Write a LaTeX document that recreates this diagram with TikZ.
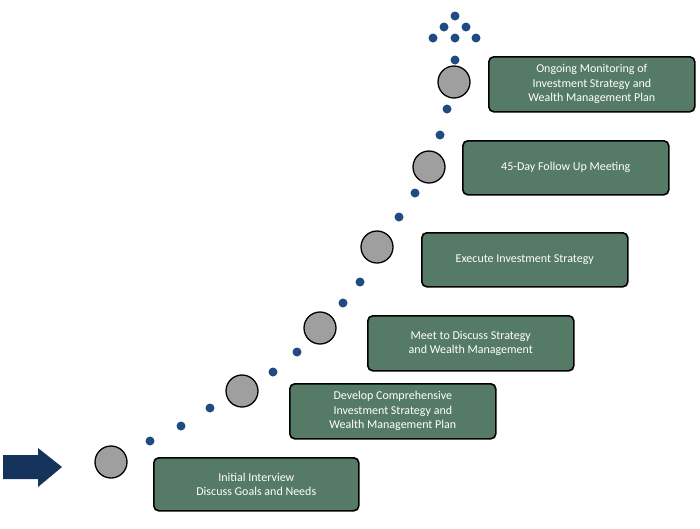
\documentclass[tikz,border=0pt]{standalone}
\usepackage{fontspec}
\setmainfont{Carlito}
\begin{document}
\begin{tikzpicture}[x=1pt,y=-1pt,
 box/.style={draw=black,line width=1.6pt,rounded corners=5pt,fill=boxg,text=white,align=center,font=\fontsize{12}{14.5}\selectfont,anchor=north west},
 circ/.style={circle,draw=black,line width=1.3pt,fill=gray!75,minimum size=32pt,inner sep=0pt},
 dot/.style={circle,fill=navy,minimum size=9pt,inner sep=0pt}]
\definecolor{boxg}{HTML}{557A66}
\definecolor{navy}{HTML}{1F4A82}
\useasboundingbox (0,0) rectangle (700,528);
\fill[navy!70!black] (3,455) -- (38,455) -- (38,448) -- (62,467) -- (38,487) -- (38,479) -- (3,479) -- cycle;
\foreach \n/\x/\y in {c1/111/462,c2/242/391,c3/320/328,c4/377/247,c5/429/167,c6/454/82}
 \node[circ] (\n) at (\x,\y) {};
\foreach \x/\y [count=\i] in {150/441,181/426,210/408,273/372,297/352,343/303,360/282,399/217,415/193,440/135,447/109,455/60,455/16,444/27,466/27,433/38,455/38,476/38}
 \node[dot] (d\i) at (\x,\y) {};
\node[box,minimum width=205pt,minimum height=53pt] (b1) at (153,457) {Initial Interview\\Discuss Goals and Needs};
\node[box,minimum width=206pt,minimum height=55pt] (b2) at (289,383) {Develop Comprehensive\\Investment Strategy and\\Wealth Management Plan};
\node[box,minimum width=206pt,minimum height=55pt] (b3) at (367,315) {Meet to Discuss Strategy\\and Wealth Management};
\node[box,minimum width=206pt,minimum height=54pt] (b4) at (421,232) {Execute Investment Strategy};
\node[box,minimum width=206pt,minimum height=54pt] (b5) at (462,140) {45-Day Follow Up Meeting};
\node[box,minimum width=206pt,minimum height=55pt] (b6) at (488,56) {Ongoing Monitoring of\\Investment Strategy and\\Wealth Management Plan};
\end{tikzpicture}
\end{document}
